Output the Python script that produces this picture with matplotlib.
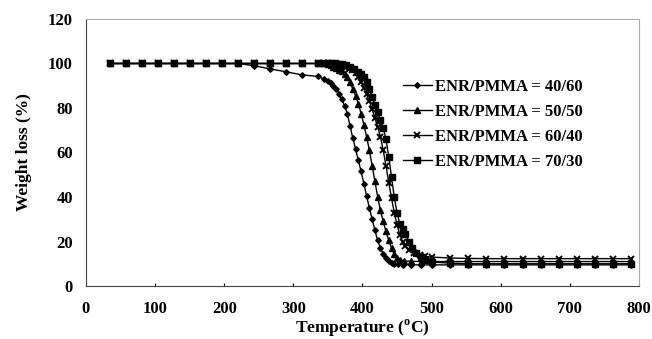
import matplotlib
matplotlib.use("Agg")
import matplotlib.pyplot as plt

plt.rcParams['font.family'] = ['Liberation Serif', 'DejaVu Serif']
plt.rcParams['font.weight'] = 'bold'
plt.rcParams['mathtext.fontset'] = 'custom'
plt.rcParams['mathtext.rm'] = 'Liberation Serif:bold'
plt.rcParams['mathtext.bf'] = 'Liberation Serif:bold'

# Shared temperature points (degC) for the plateau and the char tail
t_start = [35, 58, 81, 104, 127, 150, 174, 197, 220, 243, 266, 289, 312, 335]
t_tail = [500, 526, 553, 579, 605, 632, 658, 684, 710, 737, 763, 789]

# ENR/PMMA = 40/60
t_4060 = t_start + [345, 350, 354, 358, 362, 366, 370, 374, 378, 382, 386, 390, 394, 398,
                    402, 406, 410, 414, 418, 422, 426, 430, 434, 438, 442, 446, 451, 458,
                    470, 485] + t_tail
w_4060 = [100] * 9 + [99.0, 97.6, 96.3, 94.9, 94.2] + \
         [93.0, 92.2, 91.2, 90.0, 88.5, 86.5, 84.0, 81.0, 77.5, 72.0, 66.5, 61.5, 56.5, 51.5,
          46.0, 40.5, 35.0, 30.0, 25.0, 20.5, 17.0, 14.5, 12.5, 11.2, 10.4, 9.9, 9.7, 9.6,
          9.5, 9.5] + [9.5] * 12

# ENR/PMMA = 50/50
t_5050 = t_start + [345, 350, 354, 358, 362, 366, 370, 374, 378, 382, 386, 390, 394, 398,
                    402, 406, 410, 414, 418, 422, 426, 430, 434, 438, 442, 446, 450, 454,
                    460, 470, 485] + t_tail
w_5050 = [100] * 14 + \
         [100.0, 99.8, 99.2, 98.6, 98.0, 97.2, 96.5, 95.5, 94.0, 91.5, 88.5, 85.5, 82.0, 77.5,
          72.5, 67.0, 61.0, 54.0, 47.0, 40.0, 34.0, 29.0, 24.5, 20.5, 17.0, 14.5, 12.8, 11.8,
          11.3, 11.1, 11.0] + [11.0] * 12

# ENR/PMMA = 60/40
t_6040 = t_start + [345, 350, 355, 360, 365, 370, 375, 380, 385, 390, 394, 398, 402, 406,
                    410, 414, 418, 422, 426, 430, 434, 438, 442, 446, 450, 454, 458, 462,
                    468, 475, 483, 490] + t_tail
w_6040 = [100] * 14 + \
         [100.0, 100.0, 99.8, 99.5, 99.1, 98.6, 98.2, 97.6, 96.9, 95.8, 94.0, 91.8, 89.2, 86.2,
          83.0, 79.5, 75.5, 71.5, 67.0, 61.0, 54.0, 46.5, 39.5, 33.0, 27.5, 23.0, 20.0, 18.0,
          16.2, 14.8, 13.8, 13.3] + [13.0, 12.6, 12.4, 12.3, 12.3, 12.3, 12.3, 12.3, 12.3,
                                      12.3, 12.3, 12.3]

# ENR/PMMA = 70/30
t_7030 = t_start + [345, 350, 355, 360, 365, 370, 376, 382, 388, 394, 398, 402, 406, 410,
                    414, 418, 422, 426, 430, 434, 438, 442, 446, 450, 454, 458, 462, 467,
                    472, 478, 484, 490] + t_tail
w_7030 = [100] * 14 + \
         [100.0, 100.0, 100.0, 100.0, 99.9, 99.8, 99.3, 98.5, 97.5, 96.3, 95.3, 94.0, 91.5, 88.5,
          85.0, 81.5, 78.0, 74.5, 71.0, 66.0, 58.0, 49.0, 40.0, 33.0, 28.0, 25.5, 23.5, 20.0,
          17.0, 14.8, 13.0, 11.8] + [10.8, 10.3, 10.0, 10.0, 10.0, 10.0, 10.0, 10.0, 10.0,
                                      10.0, 10.0, 10.0]

labels = ['ENR/PMMA = 40/60', 'ENR/PMMA = 50/50', 'ENR/PMMA = 60/40', 'ENR/PMMA = 70/30']
x_ticks = [0, 100, 200, 300, 400, 500, 600, 700, 800]
y_ticks = [0, 20, 40, 60, 80, 100, 120]

fig = plt.figure(figsize=(6.52, 3.39), dpi=100)
ax = fig.add_axes([0.1319, 0.1563, 0.8481, 0.7877])

series = [
    (t_4060, w_4060, dict(marker='D', ms=2.8)),
    (t_5050, w_5050, dict(marker='^', ms=3.8)),
    (t_6040, w_6040, dict(marker='x', ms=4.6, mew=1.4)),
    (t_7030, w_7030, dict(marker='s', ms=3.8)),
]
for (t, w, style), lab in zip(series, labels):
    ax.plot(t, w, color='black', lw=1.0, label=lab, **style)

ax.set_xlim(0, 800)
ax.set_ylim(0, 120)
ax.set_xticks(x_ticks)
ax.set_yticks(y_ticks)
ax.tick_params(axis='x', length=2, direction='in', pad=10.5, labelsize=12)
ax.tick_params(axis='y', length=0, pad=9.5, labelsize=12)
for lab in ax.get_xticklabels() + ax.get_yticklabels():
    lab.set_fontweight('bold')

for side in ['left', 'bottom']:
    ax.spines[side].set_color('#444444')
    ax.spines[side].set_linewidth(0.8)
    ax.spines[side].set_linestyle((0, (3, 1)))
for side in ['top', 'right']:
    ax.spines[side].set_color('#aaaaaa')
    ax.spines[side].set_linewidth(0.8)
    ax.spines[side].set_linestyle((0, (2, 1)))

ax.set_xlabel(r'Temperature ($^{\mathrm{o}}$C)', fontsize=12.5, fontweight='bold')
ax.xaxis.set_label_coords(0.5, -0.117)
ax.set_ylabel('Weight loss (%)', fontsize=12.5, fontweight='bold')
ax.yaxis.set_label_coords(-0.098, 0.5)

leg = ax.legend(loc='upper left', bbox_to_anchor=(0.573, 0.777), frameon=False,
                fontsize=12, handlelength=1.74, handletextpad=0.2, labelspacing=0.55,
                borderpad=0.0, borderaxespad=0.0)
for txt in leg.get_texts():
    txt.set_fontweight('bold')

fig.savefig('out.png', dpi=100)
